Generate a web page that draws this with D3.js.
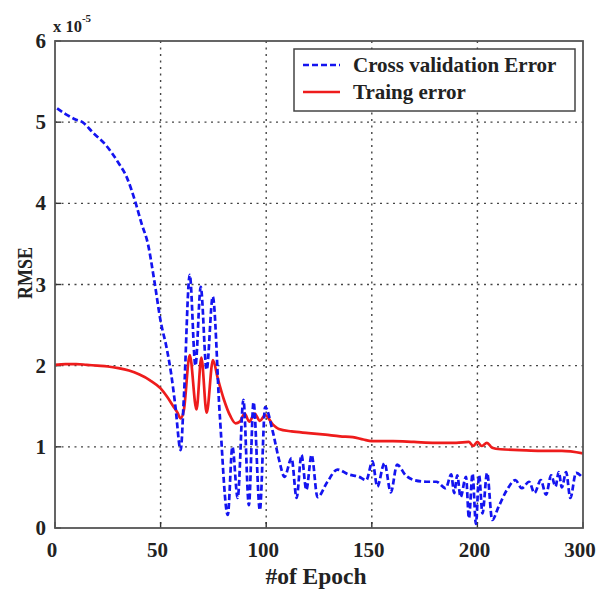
<!DOCTYPE html>
<html><head><meta charset="utf-8">
<script src="https://cdn.jsdelivr.net/npm/d3@7"></script>
<style>
html,body{margin:0;padding:0;background:#fff;}
text{font-family:"Liberation Serif","Times New Roman",serif;font-weight:bold;fill:#222;}
</style></head>
<body><svg id="c" width="598" height="592"></svg>
<script>
// ---- data (epoch positions, RMSE in units of 1e-5) ----
const cvEpoch = [1,5,10,13,18,24,30,34,38,41,44,47,50,53,55,57,59.5,61,63.8,66.5,69,71.8,74.7,78,81.8,84,86.5,89.2,91.8,94,97,99.5,103,106,108.7,112,114.4,116.7,119,121.5,124.3,129,133.7,139,144,147.4,150.3,152.6,156,159,162,166,170,175.8,180.5,185,187.6,189,190.5,192,194.6,196,197.7,199.3,200.8,202.4,204.6,207,210,214,218,221,224.5,227,230,232.5,234.9,237,238.5,240,242,244,246.7,249.5];
const cvRMSE  = [5.17,5.1,5.03,5.0,4.87,4.72,4.5,4.32,4.02,3.75,3.5,3.05,2.55,2.2,1.9,1.5,0.96,1.6,3.12,2.0,2.97,1.95,2.85,1.4,0.16,1.0,0.37,1.58,0.28,1.55,0.22,1.49,1.2,0.85,0.63,0.86,0.37,0.9,0.47,0.9,0.38,0.57,0.72,0.66,0.63,0.59,0.82,0.51,0.8,0.44,0.78,0.65,0.59,0.57,0.57,0.49,0.66,0.43,0.65,0.38,0.63,0.12,0.67,0.05,0.65,0.18,0.68,0.1,0.26,0.47,0.59,0.49,0.57,0.43,0.59,0.41,0.65,0.51,0.69,0.5,0.69,0.37,0.68,0.63];
const trEpoch = [0,5,10,15,20,25,30,35,40,45,50,53,56,58,59.5,61,63.8,67,69.3,71.8,74.8,77,80,83,85.5,87.5,89.8,92,94.5,97,99.5,103,106,112,120,128,135,141,146,150,160,170,180,190,196,198,200,202,204.5,207,211,220,230,240,250];
const trRMSE  = [2.01,2.02,2.02,2.01,2.0,1.99,1.97,1.94,1.89,1.82,1.72,1.62,1.5,1.42,1.35,1.45,2.13,1.46,2.1,1.42,2.07,1.85,1.58,1.38,1.29,1.31,1.41,1.31,1.41,1.32,1.39,1.28,1.22,1.19,1.17,1.15,1.13,1.12,1.09,1.07,1.07,1.06,1.05,1.05,1.06,1.01,1.06,1.01,1.05,0.99,0.97,0.96,0.95,0.95,0.92];
const xTickPos = [0,50,100,150,200,250];
const xTickLabels = ["0","50","100","150","200","300"];
const yTicks = [0,1,2,3,4,5,6];
const seriesNames = ["Cross validation Error","Traing error"];
const axisLabels = {x:"#of Epoch", y:"RMSE"};

// ---- layout ----
const L=55,R=583,T=41,B=528;
const svg=d3.select("#c");
const x=d3.scaleLinear().domain([0,250]).range([L,R]);
const y=d3.scaleLinear().domain([0,6]).range([B,T]);

// grid
const g=svg.append("g");
g.selectAll(".vg").data(xTickPos.slice(1,-1)).join("line")
 .attr("x1",d=>x(d)).attr("x2",d=>x(d)).attr("y1",T).attr("y2",B)
 .attr("stroke","#444").attr("stroke-width",1.4).attr("stroke-dasharray","2,4.5");
g.selectAll(".hg").data(yTicks.slice(1,-1)).join("line")
 .attr("x1",L).attr("x2",R).attr("y1",d=>y(d)).attr("y2",d=>y(d))
 .attr("stroke","#444").attr("stroke-width",1.4).attr("stroke-dasharray","2,4.5");

// tick marks (inward)
g.selectAll(".xt").data(xTickPos).join("line")
 .attr("x1",d=>x(d)).attr("x2",d=>x(d)).attr("y1",B).attr("y2",B-6)
 .attr("stroke","#333").attr("stroke-width",1.4);
g.selectAll(".yt").data(yTicks).join("line")
 .attr("x1",L).attr("x2",L+6).attr("y1",d=>y(d)).attr("y2",d=>y(d))
 .attr("stroke","#333").attr("stroke-width",1.4);

// lines
const cv=cvEpoch.map((e,i)=>[e,cvRMSE[i]]);
const tr=trEpoch.map((e,i)=>[e,trRMSE[i]]);
const line=d3.line().x(d=>x(d[0])).y(d=>y(d[1])).curve(d3.curveMonotoneX);
svg.append("path").datum(tr).attr("d",line).attr("fill","none")
 .attr("stroke","#ee1c1c").attr("stroke-width",2.7).attr("stroke-linejoin","round");
svg.append("path").datum(cv).attr("d",line).attr("fill","none")
 .attr("stroke","#1414f0").attr("stroke-width",2.7).attr("stroke-dasharray","6,3");

// frame
svg.append("rect").attr("x",L).attr("y",T).attr("width",R-L).attr("height",B-T)
 .attr("fill","none").attr("stroke","#555").attr("stroke-width",1.8);

// tick labels
svg.selectAll(".xl").data(xTickPos).join("text")
 .attr("x",d=>x(d)-3).attr("y",557).attr("text-anchor","middle")
 .attr("font-size",21).text((d,i)=>xTickLabels[i]);
svg.selectAll(".yl").data(yTicks).join("text")
 .attr("x",46).attr("y",d=>y(d)+7).attr("text-anchor","end")
 .attr("font-size",21).text(d=>d);

// exponent
const ex=svg.append("text").attr("x",53).attr("y",32).attr("font-size",16.5);
ex.append("tspan").text("x 10");
ex.append("tspan").attr("dy",-10).attr("font-size",11).text("-5");

// axis labels
svg.append("text").attr("x",316).attr("y",584).attr("text-anchor","middle")
 .attr("font-size",23.5).text(axisLabels.x);
svg.append("text").attr("transform","translate(32,273) rotate(-90)").attr("text-anchor","middle")
 .attr("font-size",21).attr("textLength",52).attr("lengthAdjust","spacingAndGlyphs").text(axisLabels.y);

// legend
const lg=svg.append("g");
lg.append("rect").attr("x",294).attr("y",49).attr("width",281).attr("height",62)
 .attr("fill","#fff").attr("stroke","#444").attr("stroke-width",1.5);
const rows=[{c:"#1414f0",dash:"6,3",t:seriesNames[0],yy:65},{c:"#ee1c1c",dash:null,t:seriesNames[1],yy:92}];
rows.forEach(r=>{
  lg.append("line").attr("x1",303).attr("x2",340).attr("y1",r.yy).attr("y2",r.yy)
   .attr("stroke",r.c).attr("stroke-width",2.7).attr("stroke-dasharray",r.dash);
  lg.append("text").attr("x",353).attr("y",r.yy+7).attr("font-size",21).text(r.t);
});
</script></body></html>
